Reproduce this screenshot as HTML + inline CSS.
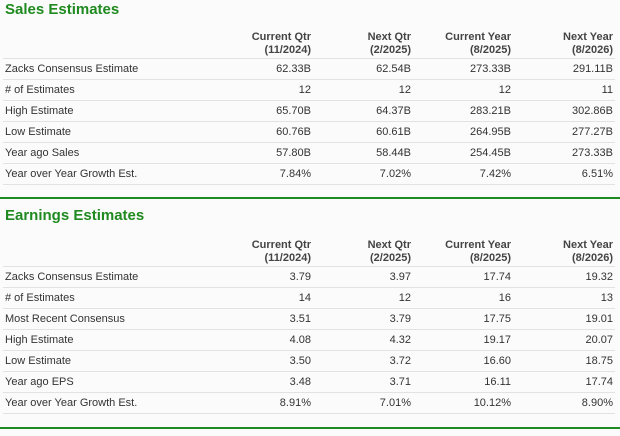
<!DOCTYPE html>
<html><head><meta charset="utf-8"><style>
body{margin:0;width:620px;height:436px;background:#fbfbfb;font-family:"Liberation Sans",Arial,sans-serif;color:#333;position:relative;overflow:hidden}
.t{position:absolute;left:5px;font-size:15px;font-weight:bold;color:#1f8a1f;margin:0}
table{position:absolute;left:3px;width:612px;border-collapse:collapse;font-size:11px}
td,th{padding:0 2px;text-align:right;height:20px;border-bottom:1px solid #e2e2e2}
td:first-child{text-align:left;padding-left:2px}
th{font-weight:bold;color:#444;line-height:13px;height:28px;vertical-align:middle}
.g{position:absolute;left:0;width:620px;height:2px;background:#1f8a1f}
</style></head><body>
<h2 class="t" style="top:1px">Sales Estimates</h2>
<table style="top:30px">
<colgroup><col style="width:220px"><col style="width:90px"><col style="width:100px"><col style="width:100px"><col style="width:102px"></colgroup>
<tr><th></th><th>Current Qtr<br>(11/2024)</th><th>Next Qtr<br>(2/2025)</th><th>Current Year<br>(8/2025)</th><th>Next Year<br>(8/2026)</th></tr>
<tr><td>Zacks Consensus Estimate</td><td>62.33B</td><td>62.54B</td><td>273.33B</td><td>291.11B</td></tr>
<tr><td># of Estimates</td><td>12</td><td>12</td><td>12</td><td>11</td></tr>
<tr><td>High Estimate</td><td>65.70B</td><td>64.37B</td><td>283.21B</td><td>302.86B</td></tr>
<tr><td>Low Estimate</td><td>60.76B</td><td>60.61B</td><td>264.95B</td><td>277.27B</td></tr>
<tr><td>Year ago Sales</td><td>57.80B</td><td>58.44B</td><td>254.45B</td><td>273.33B</td></tr>
<tr><td>Year over Year Growth Est.</td><td>7.84%</td><td>7.02%</td><td>7.42%</td><td>6.51%</td></tr>
</table>
<div class="g" style="top:197px"></div>
<h2 class="t" style="top:207px">Earnings Estimates</h2>
<table style="top:237px">
<colgroup><col style="width:220px"><col style="width:90px"><col style="width:100px"><col style="width:100px"><col style="width:102px"></colgroup>
<tr><th style="height:29px"></th><th>Current Qtr<br>(11/2024)</th><th>Next Qtr<br>(2/2025)</th><th>Current Year<br>(8/2025)</th><th>Next Year<br>(8/2026)</th></tr>
<tr><td>Zacks Consensus Estimate</td><td>3.79</td><td>3.97</td><td>17.74</td><td>19.32</td></tr>
<tr><td># of Estimates</td><td>14</td><td>12</td><td>16</td><td>13</td></tr>
<tr><td>Most Recent Consensus</td><td>3.51</td><td>3.79</td><td>17.75</td><td>19.01</td></tr>
<tr><td>High Estimate</td><td>4.08</td><td>4.32</td><td>19.17</td><td>20.07</td></tr>
<tr><td>Low Estimate</td><td>3.50</td><td>3.72</td><td>16.60</td><td>18.75</td></tr>
<tr><td>Year ago EPS</td><td>3.48</td><td>3.71</td><td>16.11</td><td>17.74</td></tr>
<tr><td>Year over Year Growth Est.</td><td>8.91%</td><td>7.01%</td><td>10.12%</td><td>8.90%</td></tr>
</table>
<div class="g" style="top:427px"></div>
</body></html>
